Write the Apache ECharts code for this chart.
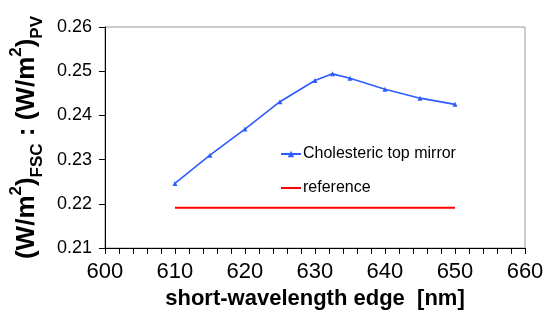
<!DOCTYPE html>
<html lang="en">
<head>
    <meta charset="UTF-8">
    <title>short-wavelength edge</title>
    <script src="https://cdn.jsdelivr.net/npm/echarts@6/dist/echarts.min.js"></script>
    <style>
        body { margin: 0; background: #fff; }
        #chart { width: 553px; height: 334px; }
    </style>
</head>
<body>
    <div id="chart"></div>
    <script>
        // data
        let edgeNm = [610, 615, 620, 625, 630, 632.5, 635, 640, 645, 650];
        let mirrorRatio = [0.2246, 0.2310, 0.2369, 0.2431, 0.2479, 0.2494, 0.2484, 0.2459, 0.2439, 0.2425];
        let refNm = [610, 650];
        let refRatio = [0.2191, 0.2191];
        let xTicks = { min: 600, max: 660, step: 10 };
        let yTicks = { min: 0.21, max: 0.26, step: 0.01 };

        let font = '"Liberation Sans", Arial, sans-serif';
        let chart = echarts.init(document.querySelector('#chart'), null, { renderer: 'canvas' });

        let option = {
            backgroundColor: '#fff',
            animation: false,
            grid: {
                left: 104, right: 28, top: 27, bottom: 86,
                show: true,
                borderColor: '#999',
                borderWidth: 1
            },
            legend: {
                orient: 'vertical',
                left: 275,
                top: 141,
                itemWidth: 20,
                itemHeight: 8,
                itemGap: 18,
                textStyle: { fontFamily: font, fontSize: 16, color: '#000', padding: [0, 0, 0, -3] },
                data: [
                    'Cholesteric top mirror',
                    // plain line in the legend, no dot
                    { name: 'reference', itemStyle: { opacity: 0 } }
                ]
            },
            xAxis: {
                type: 'value',
                min: xTicks.min,
                max: xTicks.max,
                interval: xTicks.step,
                name: 'short-wavelength edge  [nm]',
                nameLocation: 'middle',
                nameGap: 39,
                nameTextStyle: { fontFamily: font, fontSize: 22, fontWeight: 'bold', color: '#000' },
                axisLine: { onZero: false, lineStyle: { color: '#000', width: 1 } },
                axisTick: { length: 6, lineStyle: { color: '#000' } },
                minorTick: { show: true, splitNumber: 5, length: 6, lineStyle: { color: '#000' } },
                axisLabel: { margin: 13, fontFamily: font, fontSize: 22, color: '#000' },
                splitLine: { show: false }
            },
            yAxis: {
                type: 'value',
                min: yTicks.min,
                max: yTicks.max,
                interval: yTicks.step,
                name: '{b|(W/m}{sup|2}{b|)}{sub|FSC}{b| : (W/m}{sup|2}{b|)}{sub|PV}',
                nameLocation: 'middle',
                nameRotate: 90,
                nameGap: 56,
                nameTextStyle: {
                    fontFamily: font, color: '#000',
                    rich: {
                        b: { fontFamily: font, fontSize: 26, fontWeight: 'bold', color: '#000', lineHeight: 38, verticalAlign: 'middle' },
                        sup: { fontFamily: font, fontSize: 17, fontWeight: 'bold', color: '#000', lineHeight: 38, verticalAlign: 'top' },
                        sub: { fontFamily: font, fontSize: 17, fontWeight: 'bold', color: '#000', lineHeight: 38, verticalAlign: 'bottom' }
                    }
                },
                axisLine: { show: true, onZero: false, lineStyle: { color: '#000', width: 1 } },
                axisTick: { show: true, length: 6, lineStyle: { color: '#000' } },
                axisLabel: {
                    margin: 13, fontFamily: font, fontSize: 18, color: '#000',
                    formatter: v => v.toFixed(2)
                },
                splitLine: { show: false }
            },
            series: [{
                name: 'Cholesteric top mirror',
                type: 'line',
                data: edgeNm.map((x, i) => [x, mirrorRatio[i]]),
                symbol: 'triangle',
                symbolSize: 5,
                showAllSymbol: true,
                lineStyle: { color: '#2f5cff', width: 1.6 },
                itemStyle: { color: '#2f5cff' }
            }, {
                name: 'reference',
                type: 'line',
                data: refNm.map((x, i) => [x, refRatio[i]]),
                symbol: 'none',
                lineStyle: { color: '#ff0000', width: 2 },
                itemStyle: { color: '#ff0000' }
            }]
        };
        chart.setOption(option);
    </script>
</body>
</html>
